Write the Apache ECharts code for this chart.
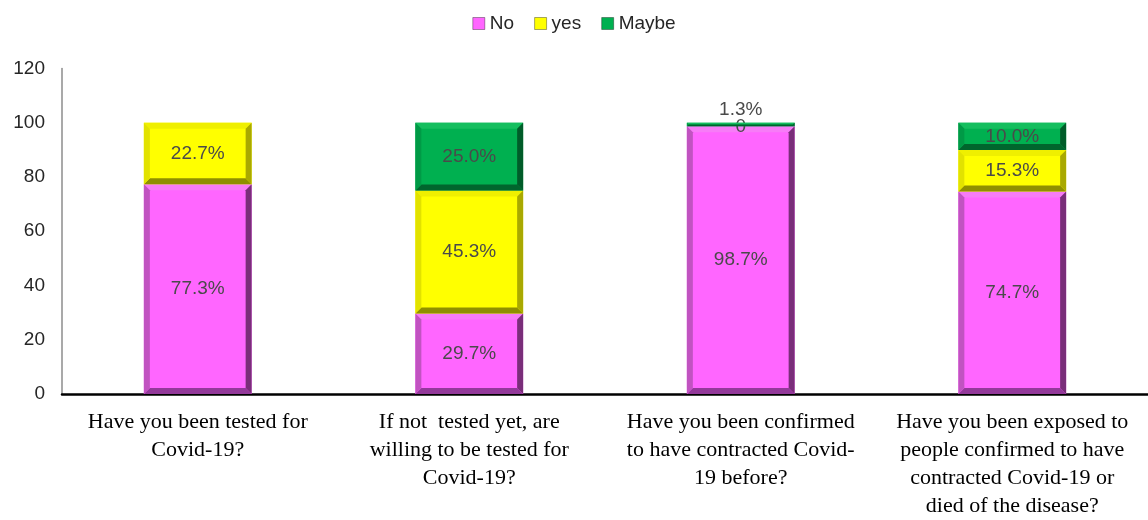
<!DOCTYPE html>
<html>
<head>
<meta charset="utf-8">
<script src="https://cdn.jsdelivr.net/npm/echarts@6/dist/echarts.min.js"></script>
<style>
  html, body { margin: 0; padding: 0; background: #ffffff; }
  #chart { width: 1148px; height: 520px; }
</style>
</head>
<body>
<div id="chart"></div>
<script>
// Survey answers, percent of respondents per question
const categories = [
  'Have you been tested for\nCovid-19?',
  'If not  tested yet, are\nwilling to be tested for\nCovid-19?',
  'Have you been confirmed\nto have contracted Covid-\n19 before?',
  'Have you been exposed to\npeople confirmed to have\ncontracted Covid-19 or\ndied of the disease?'
];
const seriesNames = ['No', 'yes', 'Maybe'];
const noValues = [77.3, 29.7, 98.7, 74.7];
const yesValues = [22.7, 45.3, 0, 15.3];
const maybeValues = [null, 25.0, 1.3, 10.0];
const yTicks = [0, 20, 40, 60, 80, 100, 120];

// Bevelled face colours for each answer
const palettes = {
  No:    { face: '#FF66FF', top: '#F77CF7', left: '#C153C1', right: '#7A2E7A', bottom: '#93399A' },
  yes:   { face: '#FFFF00', top: '#EFEF00', left: '#E2E200', right: '#A9A900', bottom: '#8F8F00' },
  Maybe: { face: '#00B050', top: '#14BE5E', left: '#009A46', right: '#005C29', bottom: '#00652D' }
};

const stacks = [noValues, yesValues, maybeValues];

function fmtLabel(v) {
  return v === 0 ? '0' : v.toFixed(1) + '%';
}

// Rows of [categoryIndex, base, value] for the stacked segment of series s
function buildRows(s) {
  return categories.map((c, i) => {
    const v = stacks[s][i];
    if (v === null || v === undefined) return [i, 0, '-'];
    let base = 0;
    for (let k = 0; k < s; k++) base += (stacks[k][i] || 0);
    return [i, base, v];
  });
}

function makeRenderer(name, isTop) {
  const pal = palettes[name];
  return function (params, api) {
    const ci = api.value(0);
    const base = api.value(1);
    const val = api.value(2);
    if (isNaN(val)) return null;
    const p0 = api.coord([ci, base]);
    const p1 = api.coord([ci, base + val]);
    const bw = api.size([1, 0])[0] * 0.397;
    const x0 = p0[0] - bw / 2, x1 = p0[0] + bw / 2;
    const yb = p0[1], yt = p1[1];
    const h = yb - yt;
    const children = [];
    if (h > 0.5) {
      const b = Math.min(6, h / 2, bw / 2);
      const poly = (pts, fill) => ({ type: 'polygon', shape: { points: pts }, style: { fill: fill } });
      children.push({ type: 'rect', shape: { x: x0, y: yt, width: bw, height: h }, style: { fill: pal.face } });
      children.push(poly([[x0, yt], [x1, yt], [x1 - b, yt + b], [x0 + b, yt + b]], pal.top));
      children.push(poly([[x0, yb], [x1, yb], [x1 - b, yb - b], [x0 + b, yb - b]], pal.bottom));
      children.push(poly([[x0, yt], [x0 + b, yt + b], [x0 + b, yb - b], [x0, yb]], pal.left));
      children.push(poly([[x1, yt], [x1 - b, yt + b], [x1 - b, yb - b], [x1, yb]], pal.right));
    }
    // thin top segments carry their label just above the bar
    let ly = (yt + yb) / 2;
    if (isTop && h < 10 && val > 0) ly = yt - 13;
    children.push({
      type: 'text',
      style: {
        text: fmtLabel(val),
        x: p0[0],
        y: ly,
        align: 'center',
        verticalAlign: 'middle',
        fill: '#4a4a4a',
        font: '19px "Liberation Sans", Arial, sans-serif'
      }
    });
    return { type: 'group', children: children };
  };
}

const chart = echarts.init(document.getElementById('chart'));

const series = seriesNames.map((name, s) => ({
  name: name,
  type: 'custom',
  renderItem: makeRenderer(name, s === seriesNames.length - 1),
  encode: { x: 0, y: 2 },
  itemStyle: { color: palettes[name].face },
  data: buildRows(s),
  z: 2
}));

chart.setOption({
  animation: false,
  backgroundColor: '#ffffff',
  legend: {
    top: 9,
    left: 'center',
    icon: 'rect',
    itemWidth: 12,
    itemHeight: 12,
    itemGap: 20,
    data: seriesNames,
    textStyle: { fontSize: 19, color: '#262626', fontFamily: '"Liberation Sans", Arial, sans-serif' },
    itemStyle: { borderColor: 'rgba(0,0,0,0.35)', borderWidth: 1 }
  },
  grid: { left: 62, right: 0, top: 68.5, bottom: 122 },
  xAxis: {
    type: 'category',
    data: categories,
    axisLine: { lineStyle: { color: '#000000', width: 2.5 } },
    axisTick: { show: false },
    axisLabel: {
      interval: 0,
      margin: 14,
      color: '#000000',
      fontSize: 22,
      lineHeight: 28,
      fontFamily: '"Liberation Serif", "Times New Roman", serif'
    }
  },
  yAxis: {
    type: 'value',
    min: yTicks[0],
    max: yTicks[yTicks.length - 1],
    interval: yTicks[1] - yTicks[0],
    axisLine: { show: true, lineStyle: { color: '#8c8c8c', width: 1.5 } },
    axisTick: { show: false },
    splitLine: { show: false },
    axisLabel: {
      margin: 17,
      color: '#262626',
      fontSize: 19,
      fontFamily: '"Liberation Sans", Arial, sans-serif'
    }
  },
  series: series
});
</script>
</body>
</html>
